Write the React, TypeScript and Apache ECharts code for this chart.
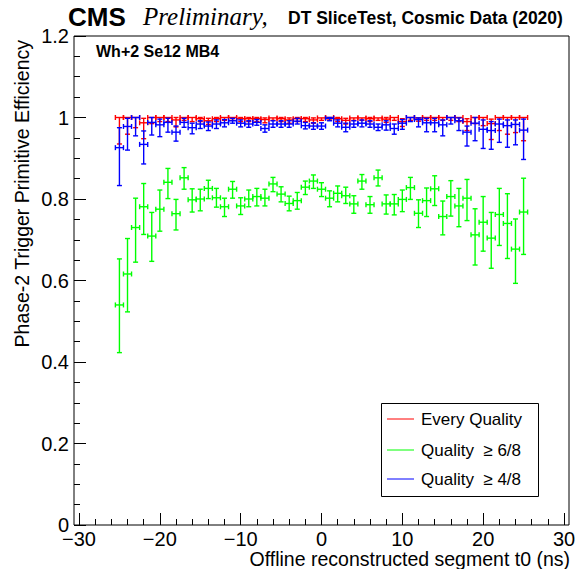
import React, { useEffect, useRef } from "react";
import * as echarts from "echarts";

// bin centres (ns)
const tBins = [-25,-24,-23,-22,-21,-20,-19,-18,-17,-16,-15,-14,-13,-12,-11,-10,-9,-8,-7,-6,-5,-4,-3,-2,-1,0,1,2,3,4,5,6,7,8,9,10,11,12,13,14,15,16,17,18,19,20,21,22,23,24,25];

// Every Quality
const redVal = [1,1,1,0.987,1,1,1,0.994,1,1, 0.997,0.992,0.997,1,1,0.997,0.997,0.997,0.995,0.999, 0.997,0.994,0.997,0.997,0.994,0.999,1,0.997,0.993,0.999, 0.999,0.997,0.999,0.996,1,0.99,1,0.999,1,1, 1,1,1,0.99,1,1,0.985,1,1,1,1];
const redLo = [0.935,0.959,0.975,0.948,0.985,0.99,0.99,0.977,0.993,0.99, 0.99,0.983,0.99,0.993,0.993,0.99,0.99,0.99,0.987,0.993, 0.99,0.986,0.99,0.99,0.986,0.993,0.994,0.99,0.984,0.993, 0.993,0.99,0.993,0.988,0.993,0.978,0.993,0.991,0.993,0.993, 0.993,0.993,0.99,0.968,0.985,0.98,0.946,0.968,0.959,0.963,0.943];
const redHi = [1,1,1,0.998,1,1,1,1,1,1, 1,0.998,1,1,1,1,1,1,0.999,1, 1,0.999,1,1,0.999,1,1,1,0.998,1, 1,1,1,1,1,0.997,1,1,1,1, 1,1,1,0.997,1,1,0.996,1,1,1,1];

// Quality >= 6/8
const greenVal = [0.54,0.616,0.73,0.781,0.709,0.775,0.841,0.764,0.852,0.798, 0.80,0.826,0.803,0.781,0.824,0.783,0.80,0.806,0.802,0.837, 0.812,0.789,0.796,0.829,0.844,0.824,0.802,0.814,0.808,0.788, 0.844,0.786,0.852,0.788,0.788,0.799,0.828,0.765,0.796,0.825, 0.757,0.806,0.783,0.802,0.712,0.743,0.704,0.762,0.740,0.677,0.768];
const greenLo = [0.423,0.523,0.645,0.713,0.647,0.721,0.801,0.724,0.824,0.768, 0.771,0.801,0.780,0.757,0.802,0.762,0.781,0.783,0.783,0.818, 0.793,0.771,0.775,0.811,0.826,0.806,0.781,0.793,0.789,0.765, 0.824,0.765,0.832,0.763,0.761,0.769,0.799,0.730,0.757,0.784, 0.712,0.758,0.732,0.747,0.638,0.672,0.630,0.686,0.654,0.593,0.664];
const greenHi = [0.653,0.703,0.802,0.838,0.767,0.822,0.875,0.799,0.877,0.825, 0.824,0.846,0.826,0.802,0.843,0.803,0.822,0.826,0.824,0.853, 0.830,0.807,0.816,0.844,0.859,0.840,0.820,0.832,0.829,0.808, 0.860,0.806,0.871,0.810,0.811,0.822,0.853,0.798,0.827,0.857, 0.795,0.845,0.826,0.848,0.776,0.806,0.767,0.826,0.813,0.751,0.851];

// Quality >= 4/8
const blueVal = [0.926,0.978,1.0,0.934,0.988,0.982,0.988,0.964,0.988,0.975, 0.984,0.979,0.984,0.987,0.992,0.986,0.984,0.988,0.973,0.984, 0.984,0.984,0.991,0.980,0.979,0.979,0.998,0.986,0.976,0.984, 0.986,0.984,0.976,0.982,0.973,0.986,1.0,0.995,0.987,0.987, 0.982,1.0,0.992,0.964,0.986,0.971,0.968,0.984,0.980,0.983,0.969];
const blueLo = [0.833,0.920,0.955,0.886,0.957,0.953,0.964,0.942,0.976,0.960, 0.973,0.968,0.973,0.977,0.986,0.977,0.976,0.981,0.964,0.976, 0.976,0.976,0.984,0.972,0.971,0.971,0.992,0.977,0.965,0.976, 0.977,0.976,0.968,0.969,0.959,0.971,0.990,0.977,0.965,0.965, 0.955,0.984,0.968,0.930,0.943,0.924,0.922,0.939,0.927,0.933,0.897];
const blueHi = [0.975,0.998,1.0,0.967,1.0,0.996,0.998,0.979,0.998,0.986, 0.992,0.989,0.994,0.995,0.998,0.994,0.992,0.995,0.982,0.992, 0.992,0.992,0.998,0.988,0.987,0.987,1.0,0.994,0.986,0.992, 0.994,0.992,0.984,0.992,0.984,0.995,1.0,0.999,0.998,0.998, 0.994,1.0,0.999,0.979,1.0,0.994,0.990,0.996,0.994,0.994,0.996];

const xTickMin = -30;
const xTickMax = 30;
const yMax = 1.2;

const SANS = "'Liberation Sans', Arial, Helvetica, sans-serif";
const SERIF = "'Liberation Serif', 'Times New Roman', serif";

const legendItems = [
  { name: "Every Quality", color: "#ff0000" },
  { name: "Quality  \u2265 6/8", color: "#00ff00" },
  { name: "Quality  \u2265 4/8", color: "#0000ff" },
];

function makeSeries(name: string, color: string, vals: number[], lo: number[], hi: number[]) {
  const data = tBins.map((t, i) => [t, vals[i], lo[i], hi[i]]);
  return {
    type: "custom",
    name,
    xAxisIndex: 0,
    yAxisIndex: 0,
    data,
    renderItem: (params: any, api: any) => {
      const t = api.value(0);
      const v = api.value(1);
      const l = api.value(2);
      const h = api.value(3);
      const c = api.coord([t, v]);
      const left = api.coord([t - 0.5, v]);
      const right = api.coord([t + 0.5, v]);
      const top = api.coord([t, h]);
      const bot = api.coord([t, l]);
      const st = { stroke: color, lineWidth: 1.4, fill: "none" };
      const cap = 2.5;
      const ch: any[] = [
        { type: "line", shape: { x1: left[0], y1: c[1], x2: right[0], y2: c[1] }, style: st },
        { type: "line", shape: { x1: left[0], y1: c[1] - cap, x2: left[0], y2: c[1] + cap }, style: st },
        { type: "line", shape: { x1: right[0], y1: c[1] - cap, x2: right[0], y2: c[1] + cap }, style: st },
      ];
      if (Math.abs(top[1] - c[1]) > 0.5) {
        ch.push({ type: "line", shape: { x1: c[0], y1: c[1], x2: c[0], y2: top[1] }, style: st });
        ch.push({ type: "line", shape: { x1: c[0] - cap, y1: top[1], x2: c[0] + cap, y2: top[1] }, style: st });
      }
      if (Math.abs(bot[1] - c[1]) > 0.5) {
        ch.push({ type: "line", shape: { x1: c[0], y1: c[1], x2: c[0], y2: bot[1] }, style: st });
        ch.push({ type: "line", shape: { x1: c[0] - cap, y1: bot[1], x2: c[0] + cap, y2: bot[1] }, style: st });
      }
      return { type: "group", children: ch };
    },
  };
}

export default function App() {
  const ref = useRef<HTMLDivElement>(null);
  useEffect(() => {
    if (!ref.current) return;
    const chart = echarts.init(ref.current, undefined, { renderer: "svg" });
    const frameL = 74, frameR = 569, frameT = 36, frameB = 525;
    const tickL = 79, tickR = 564;
    const legX = 381, legY = 403, legW = 157, legH = 93;
    const rowY = [419, 450, 479];
    const option: any = {
      animation: false,
      backgroundColor: "#ffffff",
      grid: [
        { left: frameL, right: 580 - frameR, top: frameT, bottom: 569 - frameB, show: true, borderColor: "#000", borderWidth: 1, backgroundColor: "transparent" },
        { left: tickL, right: 580 - tickR, top: frameT, bottom: 569 - frameB, show: false },
      ],
      xAxis: [
        {
          type: "value", gridIndex: 0, min: -30.62, max: 30.62, position: "bottom",
          axisLine: { show: false, onZero: false }, axisTick: { show: false }, axisLabel: { show: false }, splitLine: { show: false },
        },
        {
          type: "value", gridIndex: 1, min: xTickMin, max: xTickMax, interval: 10, position: "bottom",
          axisLine: { show: false, onZero: false },
          axisTick: { show: true, inside: true, length: 12, lineStyle: { color: "#000", width: 1 } },
          minorTick: { show: true, splitNumber: 5, length: 6, lineStyle: { color: "#000", width: 1 } },
          axisLabel: {
            show: true, margin: 4, fontSize: 20, lineHeight: 20, color: "#000", fontFamily: SANS,
            formatter: (v: number) => String(v).replace("-", "\u2212"),
          },
          splitLine: { show: false },
        },
      ],
      yAxis: [
        {
          type: "value", gridIndex: 0, min: 0, max: yMax, interval: 0.2, position: "left",
          axisLine: { show: false, onZero: false },
          axisTick: { show: true, inside: true, length: 12, lineStyle: { color: "#000", width: 1 } },
          minorTick: { show: true, splitNumber: 4, length: 6, lineStyle: { color: "#000", width: 1 } },
          axisLabel: { show: true, margin: 5, fontSize: 20, color: "#000", fontFamily: SANS },
          splitLine: { show: false },
        },
        { type: "value", gridIndex: 1, min: 0, max: 1, show: false, axisLine: { onZero: false } },
      ],
      series: [
        makeSeries("Every Quality", "#ff0000", redVal, redLo, redHi),
        makeSeries("Quality >= 6/8", "#00ff00", greenVal, greenLo, greenHi),
        makeSeries("Quality >= 4/8", "#0000ff", blueVal, blueLo, blueHi),
      ],
      graphic: [
        { type: "text", left: 68, top: 4, z: 10, style: { text: "CMS", font: `bold 26px ${SANS}`, fill: "#000" } },
        { type: "text", left: 143, top: 4, z: 10, style: { text: "Preliminary,", font: `italic 25px ${SERIF}`, fill: "#000" } },
        { type: "text", left: 288, top: 9, z: 10, style: { text: "DT SliceTest, Cosmic Data (2020)", font: `bold 17.5px ${SANS}`, fill: "#000" } },
        { type: "text", left: 96, top: 43, z: 10, style: { text: "Wh+2 Se12 MB4", font: `bold 16px ${SANS}`, fill: "#000" } },
        {
          type: "text", x: 22, y: 40, rotation: Math.PI / 2, z: 10,
          style: { text: "Phase-2 Trigger Primitive Efficiency", font: `19.5px ${SANS}`, fill: "#000", align: "right", verticalAlign: "middle" },
        },
        {
          type: "text", x: 570, y: 559, z: 10,
          style: { text: "Offline reconstructed segment t0 (ns)", font: `19.5px ${SANS}`, lineHeight: 19, fill: "#000", align: "right", verticalAlign: "middle" },
        },
        {
          type: "rect", z: 10,
          shape: { x: legX + 0.5, y: legY + 0.5, width: legW, height: legH },
          style: { fill: "#fff", stroke: "#000", lineWidth: 1 },
        },
        ...legendItems.flatMap((it, i) => [
          {
            type: "line", z: 11,
            shape: { x1: legX + 6, y1: rowY[i], x2: legX + 33, y2: rowY[i] },
            style: { stroke: it.color, lineWidth: 1 },
          },
          {
            type: "text", x: legX + 40, y: rowY[i], z: 11,
            style: { text: it.name, font: `17px ${SANS}`, fill: "#000", align: "left", verticalAlign: "middle" },
          },
        ]),
      ],
    };
    chart.setOption(option);
    return () => chart.dispose();
  }, []);
  return <div ref={ref} style={{ position: "fixed", left: 0, top: 0, width: 580, height: 569, background: "#fff" }} />;
}
